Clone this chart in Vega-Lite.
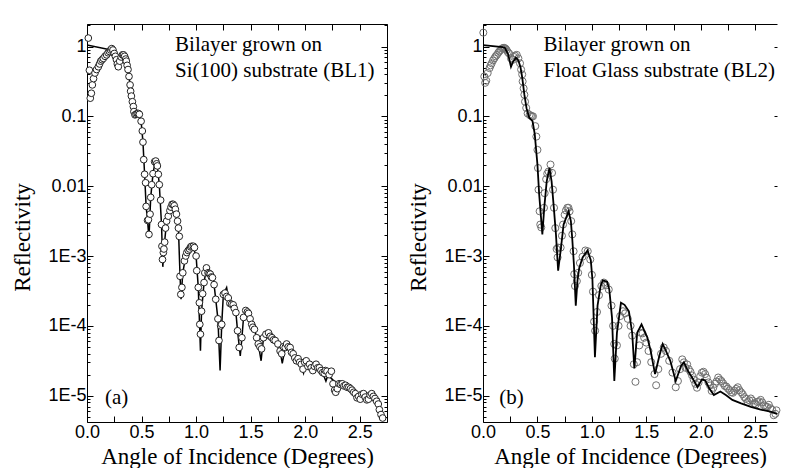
{
  "$schema": "https://vega.github.io/schema/vega-lite/v6.json",
  "background": "white",
  "autosize": {"type": "pad"},
  "padding": {"left": 11, "top": 16, "right": 0, "bottom": 0},
  "spacing": 19,
  "datasets": {
    "a_pts": [
      {"x":0.012,"r":1.32},{"x":0.022,"r":0.457},{"x":0.03,"r":0.182},{"x":0.04,"r":0.214},{"x":0.049,"r":0.282},{"x":0.06,"r":0.347},{"x":0.073,"r":0.417},{"x":0.088,"r":0.468},{"x":0.104,"r":0.513},{"x":0.115,"r":0.562},{"x":0.126,"r":0.617},{"x":0.138,"r":0.646},{"x":0.15,"r":0.676},{"x":0.165,"r":0.724},{"x":0.18,"r":0.759},{"x":0.193,"r":0.813},{"x":0.205,"r":0.851},{"x":0.216,"r":0.891},{"x":0.227,"r":0.933},{"x":0.238,"r":0.891},{"x":0.25,"r":0.794},{"x":0.26,"r":0.724},{"x":0.27,"r":0.646},{"x":0.278,"r":0.562},{"x":0.287,"r":0.513},{"x":0.3,"r":0.617},{"x":0.313,"r":0.708},{"x":0.325,"r":0.759},{"x":0.335,"r":0.759},{"x":0.345,"r":0.724},{"x":0.355,"r":0.661},{"x":0.36,"r":0.617},{"x":0.368,"r":0.537},{"x":0.376,"r":0.468},{"x":0.385,"r":0.372},{"x":0.395,"r":0.282},{"x":0.4,"r":0.229},{"x":0.407,"r":0.195},{"x":0.416,"r":0.162},{"x":0.425,"r":0.138},{"x":0.43,"r":0.117},{"x":0.44,"r":0.105},{"x":0.45,"r":0.107},{"x":0.46,"r":0.11},{"x":0.47,"r":0.11},{"x":0.48,"r":0.107},{"x":0.496,"r":0.0851},{"x":0.507,"r":0.0617},{"x":0.513,"r":0.0427},{"x":0.52,"r":0.024},{"x":0.528,"r":0.0148},{"x":0.537,"r":0.0112},{"x":0.542,"r":0.00513},{"x":0.555,"r":0.00324},{"x":0.563,"r":0.00331},{"x":0.568,"r":0.00204},{"x":0.578,"r":0.00398},{"x":0.584,"r":0.00692},{"x":0.593,"r":0.0105},{"x":0.605,"r":0.0151},{"x":0.62,"r":0.0224},{"x":0.63,"r":0.0229},{"x":0.638,"r":0.0209},{"x":0.645,"r":0.0195},{"x":0.654,"r":0.0148},{"x":0.663,"r":0.0105},{"x":0.675,"r":0.00631},{"x":0.683,"r":0.00282},{"x":0.687,"r":0.00138},{"x":0.692,"r":0.000891},{"x":0.7,"r":0.00112},{"x":0.705,"r":0.00126},{"x":0.712,"r":0.00158},{"x":0.72,"r":0.00251},{"x":0.73,"r":0.00316},{"x":0.745,"r":0.00372},{"x":0.76,"r":0.00447},{"x":0.77,"r":0.00501},{"x":0.78,"r":0.0055},{"x":0.79,"r":0.0055},{"x":0.8,"r":0.00525},{"x":0.81,"r":0.00468},{"x":0.82,"r":0.00398},{"x":0.83,"r":0.00316},{"x":0.838,"r":0.00251},{"x":0.846,"r":0.00191},{"x":0.853,"r":0.000513},{"x":0.86,"r":0.000282},{"x":0.87,"r":0.000355},{"x":0.878,"r":0.000575},{"x":0.893,"r":0.000851},{"x":0.905,"r":0.001},{"x":0.915,"r":0.00112},{"x":0.928,"r":0.0012},{"x":0.94,"r":0.00126},{"x":0.95,"r":0.00135},{"x":0.96,"r":0.00138},{"x":0.975,"r":0.00138},{"x":0.985,"r":0.00132},{"x":1.0,"r":0.001},{"x":1.006,"r":0.000617},{"x":1.02,"r":0.000355},{"x":1.03,"r":0.000214},{"x":1.034,"r":0.000105},{"x":1.04,"r":0.0000759},{"x":1.05,"r":0.000162},{"x":1.06,"r":0.000288},{"x":1.073,"r":0.000417},{"x":1.08,"r":0.000575},{"x":1.095,"r":0.000676},{"x":1.11,"r":0.000575},{"x":1.12,"r":0.000562},{"x":1.13,"r":0.00055},{"x":1.14,"r":0.000501},{"x":1.15,"r":0.00049},{"x":1.165,"r":0.000389},{"x":1.18,"r":0.00024},{"x":1.2,"r":0.000126},{"x":1.21,"r":0.0000617},{"x":1.225,"r":0.0001},{"x":1.235,"r":0.000105},{"x":1.25,"r":0.000282},{"x":1.265,"r":0.000295},{"x":1.28,"r":0.000263},{"x":1.295,"r":0.000251},{"x":1.31,"r":0.000209},{"x":1.325,"r":0.000204},{"x":1.34,"r":0.0002},{"x":1.35,"r":0.000178},{"x":1.365,"r":0.000155},{"x":1.38,"r":0.0000851},{"x":1.395,"r":0.000049},{"x":1.42,"r":0.0000676},{"x":1.435,"r":0.000132},{"x":1.455,"r":0.000166},{"x":1.47,"r":0.000158},{"x":1.48,"r":0.000151},{"x":1.495,"r":0.000126},{"x":1.51,"r":0.000105},{"x":1.52,"r":0.0000955},{"x":1.535,"r":0.0000891},{"x":1.555,"r":0.0000676},{"x":1.57,"r":0.000055},{"x":1.585,"r":0.0000501},{"x":1.6,"r":0.0000468},{"x":1.618,"r":0.0000676},{"x":1.64,"r":0.0000759},{"x":1.664,"r":0.0000794},{"x":1.68,"r":0.0000708},{"x":1.695,"r":0.0000676},{"x":1.71,"r":0.0000631},{"x":1.725,"r":0.0000617},{"x":1.75,"r":0.000055},{"x":1.77,"r":0.0000437},{"x":1.785,"r":0.0000398},{"x":1.8,"r":0.0000501},{"x":1.817,"r":0.000049},{"x":1.83,"r":0.000055},{"x":1.845,"r":0.0000501},{"x":1.862,"r":0.000049},{"x":1.875,"r":0.0000417},{"x":1.89,"r":0.0000398},{"x":1.905,"r":0.0000347},{"x":1.92,"r":0.0000316},{"x":1.935,"r":0.0000339},{"x":1.95,"r":0.0000302},{"x":1.965,"r":0.0000282},{"x":1.98,"r":0.000024},{"x":1.995,"r":0.0000302},{"x":2.01,"r":0.0000316},{"x":2.025,"r":0.0000263},{"x":2.04,"r":0.0000282},{"x":2.055,"r":0.0000251},{"x":2.07,"r":0.0000229},{"x":2.085,"r":0.0000263},{"x":2.1,"r":0.0000282},{"x":2.115,"r":0.0000251},{"x":2.13,"r":0.0000251},{"x":2.145,"r":0.0000229},{"x":2.16,"r":0.0000214},{"x":2.175,"r":0.0000209},{"x":2.185,"r":0.0000229},{"x":2.2,"r":0.0000224},{"x":2.22,"r":0.00002},{"x":2.24,"r":0.0000224},{"x":2.255,"r":0.0000148},{"x":2.27,"r":0.000012},{"x":2.28,"r":0.0000112},{"x":2.295,"r":0.0000126},{"x":2.31,"r":0.0000148},{"x":2.325,"r":0.0000145},{"x":2.34,"r":0.0000148},{"x":2.355,"r":0.0000138},{"x":2.37,"r":0.0000141},{"x":2.385,"r":0.0000132},{"x":2.4,"r":0.0000132},{"x":2.415,"r":0.0000126},{"x":2.43,"r":0.000012},{"x":2.445,"r":0.0000112},{"x":2.46,"r":0.0000107},{"x":2.475,"r":0.00000933},{"x":2.49,"r":0.00000977},{"x":2.505,"r":0.00000891},{"x":2.52,"r":0.0000105},{"x":2.535,"r":0.0000107},{"x":2.55,"r":0.00000955},{"x":2.565,"r":0.00000871},{"x":2.58,"r":0.00000891},{"x":2.595,"r":0.0000102},{"x":2.61,"r":0.0000107},{"x":2.625,"r":0.00000977},{"x":2.64,"r":0.00000912},{"x":2.655,"r":0.00000832},{"x":2.67,"r":0.00000759},{"x":2.68,"r":0.00000631},{"x":2.695,"r":0.00000537},{"x":2.71,"r":0.00000479}
    ],
    "a_fit": [
      {"x":0.0,"r":1.05},{"x":0.21,"r":0.9},{"x":0.227,"r":0.93},{"x":0.25,"r":0.794},{"x":0.27,"r":0.646},{"x":0.287,"r":0.513},{"x":0.3,"r":0.617},{"x":0.325,"r":0.759},{"x":0.345,"r":0.724},{"x":0.36,"r":0.617},{"x":0.376,"r":0.468},{"x":0.395,"r":0.282},{"x":0.416,"r":0.162},{"x":0.44,"r":0.105},{"x":0.48,"r":0.107},{"x":0.496,"r":0.0851},{"x":0.513,"r":0.0427},{"x":0.528,"r":0.0148},{"x":0.542,"r":0.00513},{"x":0.555,"r":0.00324},{"x":0.568,"r":0.0018},{"x":0.584,"r":0.00692},{"x":0.605,"r":0.0151},{"x":0.625,"r":0.0224},{"x":0.645,"r":0.0195},{"x":0.663,"r":0.0105},{"x":0.683,"r":0.00282},{"x":0.695,"r":0.0007},{"x":0.705,"r":0.00126},{"x":0.73,"r":0.00316},{"x":0.77,"r":0.00501},{"x":0.79,"r":0.0055},{"x":0.81,"r":0.00468},{"x":0.838,"r":0.00251},{"x":0.853,"r":0.000513},{"x":0.862,"r":0.00024},{"x":0.878,"r":0.000575},{"x":0.905,"r":0.001},{"x":0.94,"r":0.00126},{"x":0.97,"r":0.00138},{"x":1.0,"r":0.001},{"x":1.02,"r":0.000355},{"x":1.04,"r":0.000044},{"x":1.05,"r":0.000162},{"x":1.073,"r":0.000417},{"x":1.095,"r":0.000676},{"x":1.13,"r":0.00055},{"x":1.165,"r":0.000389},{"x":1.2,"r":0.000126},{"x":1.22,"r":0.000023},{"x":1.235,"r":0.000105},{"x":1.25,"r":0.000282},{"x":1.28,"r":0.000355},{"x":1.295,"r":0.000251},{"x":1.34,"r":0.0002},{"x":1.365,"r":0.000155},{"x":1.38,"r":0.0000851},{"x":1.405,"r":0.000037},{"x":1.42,"r":0.0000676},{"x":1.435,"r":0.000132},{"x":1.455,"r":0.000166},{"x":1.495,"r":0.000126},{"x":1.535,"r":0.0000891},{"x":1.57,"r":0.000055},{"x":1.596,"r":0.0000316},{"x":1.618,"r":0.0000676},{"x":1.664,"r":0.0000794},{"x":1.725,"r":0.0000617},{"x":1.77,"r":0.0000437},{"x":1.79,"r":0.000029},{"x":1.817,"r":0.000049},{"x":1.862,"r":0.000049},{"x":1.92,"r":0.0000316},{"x":1.95,"r":0.00003},{"x":1.985,"r":0.000021},{"x":2.0,"r":0.000028},{"x":2.05,"r":0.000026},{"x":2.1,"r":0.000025},{"x":2.15,"r":0.000023},{"x":2.19,"r":0.0000162},{"x":2.21,"r":0.00002},{"x":2.25,"r":0.000017},{"x":2.3,"r":0.000015},{"x":2.34,"r":0.0000132},{"x":2.4,"r":0.000013},{"x":2.45,"r":0.0000115},{"x":2.5,"r":0.0000105},{"x":2.55,"r":0.0000098},{"x":2.6,"r":0.0000095},{"x":2.65,"r":0.0000093},{"x":2.68,"r":0.000009}
    ],
    "b_pts": [
      {"x":0.003,"r":1.58},{"x":0.012,"r":0.372},{"x":0.02,"r":0.302},{"x":0.03,"r":0.324},{"x":0.043,"r":0.417},{"x":0.06,"r":0.49},{"x":0.07,"r":0.537},{"x":0.08,"r":0.575},{"x":0.092,"r":0.631},{"x":0.104,"r":0.676},{"x":0.116,"r":0.724},{"x":0.128,"r":0.759},{"x":0.14,"r":0.813},{"x":0.15,"r":0.851},{"x":0.162,"r":0.891},{"x":0.174,"r":0.933},{"x":0.185,"r":0.955},{"x":0.196,"r":0.955},{"x":0.207,"r":0.933},{"x":0.217,"r":0.891},{"x":0.228,"r":0.832},{"x":0.24,"r":0.794},{"x":0.257,"r":0.676},{"x":0.275,"r":0.646},{"x":0.285,"r":0.708},{"x":0.294,"r":0.741},{"x":0.31,"r":0.759},{"x":0.325,"r":0.676},{"x":0.34,"r":0.575},{"x":0.35,"r":0.468},{"x":0.36,"r":0.398},{"x":0.364,"r":0.316},{"x":0.373,"r":0.251},{"x":0.38,"r":0.204},{"x":0.386,"r":0.162},{"x":0.397,"r":0.132},{"x":0.41,"r":0.11},{"x":0.428,"r":0.105},{"x":0.44,"r":0.102},{"x":0.45,"r":0.1},{"x":0.459,"r":0.1},{"x":0.48,"r":0.0724},{"x":0.49,"r":0.0513},{"x":0.5,"r":0.0331},{"x":0.505,"r":0.0182},{"x":0.51,"r":0.00891},{"x":0.52,"r":0.00437},{"x":0.526,"r":0.00282},{"x":0.535,"r":0.00257},{"x":0.56,"r":0.0049},{"x":0.566,"r":0.00794},{"x":0.58,"r":0.0126},{"x":0.59,"r":0.0151},{"x":0.602,"r":0.0162},{"x":0.62,"r":0.0204},{"x":0.634,"r":0.0155},{"x":0.643,"r":0.00891},{"x":0.652,"r":0.0049},{"x":0.664,"r":0.00251},{"x":0.676,"r":0.00126},{"x":0.685,"r":0.000955},{"x":0.69,"r":0.00132},{"x":0.713,"r":0.00132},{"x":0.725,"r":0.00195},{"x":0.735,"r":0.00282},{"x":0.75,"r":0.00389},{"x":0.762,"r":0.0045},{"x":0.774,"r":0.0049},{"x":0.785,"r":0.0049},{"x":0.795,"r":0.00437},{"x":0.81,"r":0.00316},{"x":0.82,"r":0.00204},{"x":0.832,"r":0.00117},{"x":0.838,"r":0.00055},{"x":0.845,"r":0.000372},{"x":0.862,"r":0.000437},{"x":0.874,"r":0.000575},{"x":0.89,"r":0.000794},{"x":0.914,"r":0.000977},{"x":0.94,"r":0.0012},{"x":0.962,"r":0.00117},{"x":0.985,"r":0.000891},{"x":1.0,"r":0.000537},{"x":1.01,"r":0.000309},{"x":1.02,"r":0.000115},{"x":1.03,"r":0.0000851},{"x":1.047,"r":0.000158},{"x":1.065,"r":0.000275},{"x":1.087,"r":0.000372},{"x":1.11,"r":0.000417},{"x":1.13,"r":0.00038},{"x":1.155,"r":0.000331},{"x":1.18,"r":0.000195},{"x":1.195,"r":0.0001},{"x":1.205,"r":0.000055},{"x":1.21,"r":0.0000339},{"x":1.23,"r":0.0000525},{"x":1.245,"r":0.0001},{"x":1.26,"r":0.000138},{"x":1.285,"r":0.000162},{"x":1.305,"r":0.000151},{"x":1.33,"r":0.000126},{"x":1.355,"r":0.0001},{"x":1.37,"r":0.0000724},{"x":1.385,"r":0.0000282},{"x":1.4,"r":0.0000158},{"x":1.415,"r":0.0000302},{"x":1.435,"r":0.0000525},{"x":1.45,"r":0.0000794},{"x":1.465,"r":0.000078},{"x":1.48,"r":0.0000676},{"x":1.5,"r":0.0000575},{"x":1.52,"r":0.0000437},{"x":1.545,"r":0.0000302},{"x":1.575,"r":0.0000204},{"x":1.59,"r":0.0000141},{"x":1.61,"r":0.000024},{"x":1.635,"r":0.0000398},{"x":1.66,"r":0.000049},{"x":1.68,"r":0.0000437},{"x":1.71,"r":0.0000316},{"x":1.74,"r":0.0000214},{"x":1.77,"r":0.0000132},{"x":1.79,"r":0.0000162},{"x":1.81,"r":0.000024},{"x":1.83,"r":0.0000331},{"x":1.845,"r":0.00003},{"x":1.86,"r":0.0000251},{"x":1.875,"r":0.000028},{"x":1.89,"r":0.000024},{"x":1.905,"r":0.000022},{"x":1.92,"r":0.0000195},{"x":1.935,"r":0.000017},{"x":1.95,"r":0.0000148},{"x":1.965,"r":0.000013},{"x":1.98,"r":0.0000155},{"x":1.995,"r":0.000019},{"x":2.01,"r":0.0000214},{"x":2.025,"r":0.000022},{"x":2.04,"r":0.0000204},{"x":2.055,"r":0.000018},{"x":2.07,"r":0.0000155},{"x":2.085,"r":0.000014},{"x":2.1,"r":0.0000117},{"x":2.115,"r":0.000013},{"x":2.13,"r":0.0000148},{"x":2.145,"r":0.000016},{"x":2.16,"r":0.0000182},{"x":2.175,"r":0.000017},{"x":2.19,"r":0.0000162},{"x":2.205,"r":0.000015},{"x":2.22,"r":0.0000138},{"x":2.235,"r":0.0000135},{"x":2.25,"r":0.0000126},{"x":2.265,"r":0.000012},{"x":2.28,"r":0.0000112},{"x":2.295,"r":0.000011},{"x":2.31,"r":0.0000117},{"x":2.325,"r":0.0000125},{"x":2.34,"r":0.0000132},{"x":2.355,"r":0.000012},{"x":2.37,"r":0.0000112},{"x":2.385,"r":0.0000105},{"x":2.4,"r":0.00000955},{"x":2.415,"r":0.000009},{"x":2.43,"r":0.00000813},{"x":2.445,"r":0.0000086},{"x":2.46,"r":0.00000912},{"x":2.475,"r":0.0000085},{"x":2.49,"r":0.00000776},{"x":2.505,"r":0.0000075},{"x":2.52,"r":0.00000813},{"x":2.535,"r":0.0000083},{"x":2.55,"r":0.00000871},{"x":2.565,"r":0.000008},{"x":2.58,"r":0.00000724},{"x":2.595,"r":0.000007},{"x":2.61,"r":0.00000692},{"x":2.625,"r":0.0000074},{"x":2.64,"r":0.00000661},{"x":2.655,"r":0.0000063},{"x":2.67,"r":0.00000525},{"x":2.685,"r":0.0000055},{"x":2.695,"r":0.00000617}
    ],
    "b_fit": [
      {"x":0.0,"r":1.05},{"x":0.18,"r":0.977},{"x":0.2,"r":0.96},{"x":0.23,"r":0.78},{"x":0.257,"r":0.513},{"x":0.275,"r":0.6},{"x":0.303,"r":0.69},{"x":0.325,"r":0.63},{"x":0.345,"r":0.5},{"x":0.36,"r":0.36},{"x":0.38,"r":0.204},{"x":0.4,"r":0.13},{"x":0.425,"r":0.0955},{"x":0.455,"r":0.0851},{"x":0.475,"r":0.0562},{"x":0.5,"r":0.0204},{"x":0.516,"r":0.00759},{"x":0.533,"r":0.00355},{"x":0.545,"r":0.00204},{"x":0.563,"r":0.00501},{"x":0.585,"r":0.0117},{"x":0.61,"r":0.0182},{"x":0.63,"r":0.0117},{"x":0.65,"r":0.00501},{"x":0.67,"r":0.00204},{"x":0.69,"r":0.000617},{"x":0.715,"r":0.00126},{"x":0.74,"r":0.00282},{"x":0.786,"r":0.00437},{"x":0.807,"r":0.00316},{"x":0.82,"r":0.00174},{"x":0.835,"r":0.00075},{"x":0.852,"r":0.000195},{"x":0.868,"r":0.00045},{"x":0.884,"r":0.000676},{"x":0.915,"r":0.000955},{"x":0.96,"r":0.0012},{"x":0.99,"r":0.00087},{"x":1.005,"r":0.000457},{"x":1.028,"r":0.0000355},{"x":1.052,"r":0.000195},{"x":1.08,"r":0.000372},{"x":1.1,"r":0.000447},{"x":1.14,"r":0.000427},{"x":1.16,"r":0.000331},{"x":1.185,"r":0.00013},{"x":1.206,"r":0.0000162},{"x":1.23,"r":0.0000794},{"x":1.267,"r":0.000214},{"x":1.3,"r":0.0002},{"x":1.34,"r":0.000162},{"x":1.37,"r":0.0000794},{"x":1.39,"r":0.0000245},{"x":1.416,"r":0.0000794},{"x":1.456,"r":0.000105},{"x":1.49,"r":0.0000794},{"x":1.51,"r":0.0000676},{"x":1.54,"r":0.0000437},{"x":1.58,"r":0.0000204},{"x":1.62,"r":0.0000372},{"x":1.65,"r":0.000055},{"x":1.68,"r":0.0000437},{"x":1.72,"r":0.0000316},{"x":1.77,"r":0.0000162},{"x":1.82,"r":0.0000269},{"x":1.845,"r":0.0000302},{"x":1.88,"r":0.0000229},{"x":1.92,"r":0.0000182},{"x":1.97,"r":0.0000132},{"x":2.01,"r":0.000017},{"x":2.04,"r":0.0000166},{"x":2.08,"r":0.0000126},{"x":2.12,"r":0.0000102},{"x":2.18,"r":0.0000115},{"x":2.23,"r":0.0000102},{"x":2.29,"r":0.00000871},{"x":2.37,"r":0.00000776},{"x":2.46,"r":0.00000692},{"x":2.55,"r":0.00000631},{"x":2.64,"r":0.00000589},{"x":2.7,"r":0.0000055}
    ],
    "a_txt": [
      {"x":0.807,"r":1.05,"label":"Bilayer grown on"},
      {"x":0.807,"r":0.44,"label":"Si(100) substrate (BL1)"},
      {"x":0.165,"r":0.0000092,"label":"(a)"}
    ],
    "b_txt": [
      {"x":0.556,"r":1.05,"label":"Bilayer grown on"},
      {"x":0.556,"r":0.44,"label":"Float Glass substrate (BL2)"},
      {"x":0.15,"r":0.0000092,"label":"(b)"}
    ]
  },
  "hconcat": [
    {
      "width": 300,
      "height": 398,
      "resolve": {"axis": {"x": "independent", "y": "independent"}},
      "layer": [
        {
          "data": {"name": "a_fit"},
          "mark": {"type": "line", "color": "black", "strokeWidth": 1.5, "clip": true},
          "encoding": {
            "x": {"field": "x", "type": "quantitative", "scale": {"domain": [0, 2.75], "nice": false, "zero": false},
              "axis": {"orient": "top", "values": [0,0.25,0.5,0.75,1,1.25,1.5,1.75,2,2.25,2.5,2.75], "labels": false, "tickSize": -6, "title": null, "domain": true}},
            "y": {"field": "r", "type": "quantitative", "scale": {"type": "log", "domain": [0.0000042, 2.1], "nice": false},
              "axis": {"orient": "right", "labels": false, "title": null, "domain": true,
                "values": [0.000005,0.000006,0.000007,0.000008,0.000009,0.00001,0.00002,0.00003,0.00004,0.00005,0.00006,0.00007,0.00008,0.00009,0.0001,0.0002,0.0003,0.0004,0.0005,0.0006,0.0007,0.0008,0.0009,0.001,0.002,0.003,0.004,0.005,0.006,0.007,0.008,0.009,0.01,0.02,0.03,0.04,0.05,0.06,0.07,0.08,0.09,0.1,0.2,0.3,0.4,0.5,0.6,0.7,0.8,0.9,1,2],
                "tickSize": {"condition": {"test": "abs(log(datum.value)/LN10 - round(log(datum.value)/LN10)) < 0.01", "value": -6}, "value": -3}}}
          }
        },
        {
          "data": {"name": "a_pts"},
          "mark": {"type": "point", "shape": "circle", "filled": true, "fill": "white", "stroke": "#222222", "strokeWidth": 1, "size": 45, "opacity": 1},
          "encoding": {
            "x": {"field": "x", "type": "quantitative",
              "axis": {"orient": "bottom", "values": [0,0.25,0.5,0.75,1,1.25,1.5,1.75,2,2.25,2.5,2.75], "tickSize": -6, "domain": true,
                "labelExpr": "abs(datum.value*2 - round(datum.value*2)) < 0.001 ? format(datum.value, '.1f') : ''",
                "labelPadding": 7, "title": "Angle of Incidence (Degrees)", "titlePadding": 4}},
            "y": {"field": "r", "type": "quantitative",
              "axis": {"orient": "left", "title": "Reflectivity", "titlePadding": 13, "labelPadding": 7, "domain": true, "titleY": 213,
                "values": [0.000005,0.000006,0.000007,0.000008,0.000009,0.00001,0.00002,0.00003,0.00004,0.00005,0.00006,0.00007,0.00008,0.00009,0.0001,0.0002,0.0003,0.0004,0.0005,0.0006,0.0007,0.0008,0.0009,0.001,0.002,0.003,0.004,0.005,0.006,0.007,0.008,0.009,0.01,0.02,0.03,0.04,0.05,0.06,0.07,0.08,0.09,0.1,0.2,0.3,0.4,0.5,0.6,0.7,0.8,0.9,1,2],
                "tickSize": {"condition": {"test": "abs(log(datum.value)/LN10 - round(log(datum.value)/LN10)) < 0.01", "value": -6}, "value": -3},
                "labelExpr": "abs(log(datum.value)/LN10 - round(log(datum.value)/LN10)) < 0.01 ? (round(log(datum.value)/LN10) == 0 ? '1' : round(log(datum.value)/LN10) == -1 ? '0.1' : round(log(datum.value)/LN10) == -2 ? '0.01' : '1E' + round(log(datum.value)/LN10)) : ''"}}
          }
        },
        {
          "data": {"name": "a_txt"},
          "mark": {"type": "text", "align": "left", "baseline": "middle", "font": "Liberation Serif", "fontSize": 21, "color": "black"},
          "encoding": {
            "x": {"field": "x", "type": "quantitative", "axis": null},
            "y": {"field": "r", "type": "quantitative", "axis": null},
            "text": {"field": "label"}
          }
        }
      ]
    },
    {
      "width": 294,
      "height": 398,
      "resolve": {"axis": {"x": "independent", "y": "independent"}},
      "layer": [
        {
          "data": {"name": "b_pts"},
          "mark": {"type": "point", "shape": "circle", "filled": false, "stroke": "#707070", "strokeWidth": 1, "size": 50, "opacity": 1},
          "encoding": {
            "x": {"field": "x", "type": "quantitative", "scale": {"domain": [0, 2.7], "nice": false, "zero": false},
              "axis": {"orient": "bottom", "values": [0,0.25,0.5,0.75,1,1.25,1.5,1.75,2,2.25,2.5], "tickSize": -6, "domain": true,
                "labelExpr": "abs(datum.value*2 - round(datum.value*2)) < 0.001 ? format(datum.value, '.1f') : ''",
                "labelPadding": 7, "title": "Angle of Incidence (Degrees)", "titlePadding": 4}},
            "y": {"field": "r", "type": "quantitative", "scale": {"type": "log", "domain": [0.0000042, 2.1], "nice": false},
              "axis": {"orient": "left", "title": "Reflectivity", "titlePadding": 13, "labelPadding": 7, "domain": true, "titleY": 213,
                "values": [0.000005,0.000006,0.000007,0.000008,0.000009,0.00001,0.00002,0.00003,0.00004,0.00005,0.00006,0.00007,0.00008,0.00009,0.0001,0.0002,0.0003,0.0004,0.0005,0.0006,0.0007,0.0008,0.0009,0.001,0.002,0.003,0.004,0.005,0.006,0.007,0.008,0.009,0.01,0.02,0.03,0.04,0.05,0.06,0.07,0.08,0.09,0.1,0.2,0.3,0.4,0.5,0.6,0.7,0.8,0.9,1,2],
                "tickSize": {"condition": {"test": "abs(log(datum.value)/LN10 - round(log(datum.value)/LN10)) < 0.01", "value": -6}, "value": -3},
                "labelExpr": "abs(log(datum.value)/LN10 - round(log(datum.value)/LN10)) < 0.01 ? (round(log(datum.value)/LN10) == 0 ? '1' : round(log(datum.value)/LN10) == -1 ? '0.1' : round(log(datum.value)/LN10) == -2 ? '0.01' : '1E' + round(log(datum.value)/LN10)) : ''"}}
          }
        },
        {
          "data": {"name": "b_fit"},
          "mark": {"type": "line", "color": "black", "strokeWidth": 1.8, "clip": true},
          "encoding": {
            "x": {"field": "x", "type": "quantitative",
              "axis": {"orient": "top", "values": [0,0.25,0.5,0.75,1,1.25,1.5,1.75,2,2.25,2.5], "labels": false, "tickSize": -6, "title": null, "domain": true}},
            "y": {"field": "r", "type": "quantitative",
              "axis": {"orient": "right", "labels": false, "title": null, "domain": false,
                "values": [0.00001,0.0001,0.001,0.01,0.1,1], "tickSize": -3}}
          }
        },
        {
          "data": {"name": "b_txt"},
          "mark": {"type": "text", "align": "left", "baseline": "middle", "font": "Liberation Serif", "fontSize": 21, "color": "black"},
          "encoding": {
            "x": {"field": "x", "type": "quantitative", "axis": null},
            "y": {"field": "r", "type": "quantitative", "axis": null},
            "text": {"field": "label"}
          }
        }
      ]
    }
  ],
  "config": {
    "view": {"stroke": null},
    "axis": {
      "grid": false,
      "domainColor": "black",
      "domainWidth": 1,
      "tickColor": "black",
      "tickWidth": 1,
      "labelFont": "Liberation Sans",
      "labelFontSize": 18,
      "labelColor": "black",
      "labelFlush": false,
      "labelOverlap": false,
      "labelBound": false,
      "titleFont": "Liberation Serif",
      "titleFontSize": 23,
      "titleFontWeight": "normal",
      "titleColor": "black"
    }
  }
}
